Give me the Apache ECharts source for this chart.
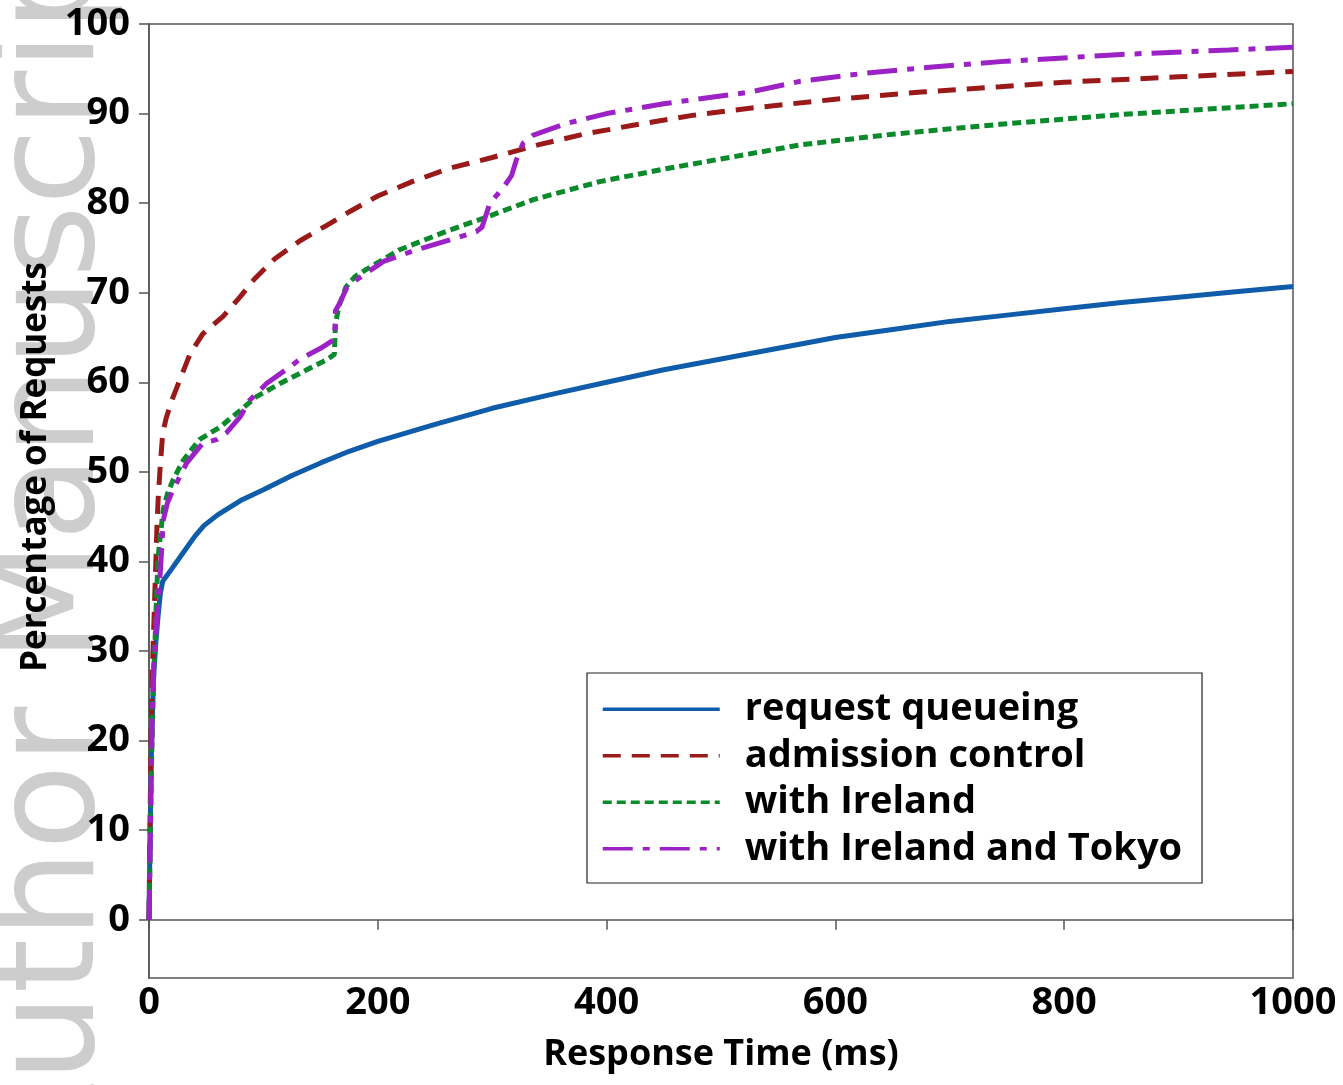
<!DOCTYPE html>
<html>
<head>
<meta charset="utf-8">
<title>Response time CDF</title>
<script src="https://cdn.jsdelivr.net/npm/echarts@6/dist/echarts.min.js"></script>
<style>
  html, body { margin: 0; padding: 0; background: #fff; }
  #chart { width: 1343px; height: 1085px; }
</style>
</head>
<body>
<div id="chart"></div>
<script>
// tick labels
const xTicks = [0, 200, 400, 600, 800, 1000]
const yTicks = [0, 10, 20, 30, 40, 50, 60, 70, 80, 90, 100]

const seriesNames = ['request queueing', 'admission control', 'with Ireland', 'with Ireland and Tokyo']

// [response time ms, percentage of requests]
const requestQueueing = [
  [0, 0], [1, 10], [2, 18], [3, 23], [4, 27], [6, 31], [8, 34], [10, 36.5], [12, 37.8],
  [20, 39.2], [30, 41.0], [40, 42.8], [48, 44.0], [60, 45.2], [80, 46.8], [100, 48.0],
  [125, 49.6], [150, 51.0], [175, 52.3], [200, 53.4], [250, 55.3], [300, 57.1], [350, 58.6],
  [400, 60.0], [450, 61.4], [500, 62.6], [550, 63.8], [600, 65.0], [650, 65.9], [700, 66.8],
  [750, 67.5], [800, 68.2], [850, 68.9], [900, 69.5], [950, 70.1], [1000, 70.7]
]
const admissionControl = [
  [0, 0], [1, 12], [2, 22], [3, 28], [4, 32], [5, 36], [6, 40], [7, 44], [8, 47], [10, 51],
  [12, 54.3], [15, 56], [20, 58], [27, 60.3], [36, 63.2], [47, 65.4], [65, 67.4], [80, 69.6],
  [92, 71.5], [110, 73.8], [132, 75.8], [155, 77.5], [176, 79.1], [200, 80.8], [230, 82.4],
  [263, 83.9], [300, 85.1], [340, 86.5], [380, 87.7], [423, 88.7], [475, 89.8], [525, 90.6],
  [600, 91.6], [675, 92.4], [744, 93.0], [800, 93.5], [900, 94.1], [1000, 94.7]
]
const withIreland = [
  [0, 0], [1, 8], [2, 16], [3, 22], [4, 27], [5, 30], [6, 34], [7, 37.5], [8, 40.5], [10, 43],
  [12.5, 45.8], [16, 47.5], [21, 49.1], [30, 51.3], [44, 53.6], [62, 55.0], [80, 56.9],
  [94, 58.4], [115, 59.9], [138, 61.4], [155, 62.5], [162, 63.1], [163, 66.5], [166, 68.5],
  [172, 70.6], [180, 71.8], [190, 72.6], [219, 74.8], [263, 77.0], [292, 78.3], [336, 80.4],
  [394, 82.4], [450, 83.8], [525, 85.5], [569, 86.5], [650, 87.7], [744, 88.8], [850, 89.9],
  [1000, 91.1]
]
const withIrelandTokyo = [
  [0, 0], [1, 8], [2, 17], [3, 24], [4, 28], [5, 30], [6, 32], [7, 34], [8, 36], [10, 39],
  [12.5, 44.6], [16, 46.5], [21, 48.0], [33, 51.0], [47, 53.2], [59, 53.6], [68, 54.4],
  [80, 56.2], [88, 58.0], [103, 59.9], [123, 61.7], [132, 62.6], [150, 63.8], [161, 64.7],
  [162.5, 66], [163, 68.0], [167, 68.9], [173, 70.6], [182, 71.5], [205, 73.5], [234, 74.8],
  [263, 75.9], [286, 76.8], [291, 77.3], [298, 80.0], [310, 81.8], [317, 83.1], [321, 84.8],
  [327, 86.7], [336, 87.6], [365, 88.9], [400, 90.0], [450, 91.1], [525, 92.4], [569, 93.6],
  [625, 94.5], [685, 95.2], [744, 95.8], [850, 96.6], [944, 97.1], [1000, 97.4]
]

const FONT = '"Open Sans", "Noto Sans", sans-serif'
const chart = echarts.init(document.getElementById('chart'))

// 每条线的样式
const styles = [
  { color: '#0f5cab', type: 'solid' },
  { color: '#9a1a1a', type: [18, 11] },
  { color: '#0b8a2c', type: [9, 5] },
  { color: '#9c22c6', type: [30, 10, 7, 10] }
]
const dataSets = [requestQueueing, admissionControl, withIreland, withIrelandTokyo]

const labelStyle = { fontFamily: FONT, fontSize: 38, fontWeight: 'bold', color: '#000' }

chart.setOption({
  backgroundColor: '#fff',
  animation: false,
  graphic: [
    {
      // watermark on the left edge
      type: 'text',
      z: -10,
      x: 127,
      y: 1178,
      rotation: Math.PI / 2,
      style: {
        text: 'Author Manuscript',
        font: '140px "DejaVu Sans", sans-serif',
        fill: '#cdcdcd',
        textAlign: 'left',
        textVerticalAlign: 'bottom'
      }
    }
  ],
  grid: {
    left: 149,
    right: 50,
    top: 24,
    bottom: 107,
    show: true,
    borderColor: '#555',
    borderWidth: 1.5,
    containLabel: false
  },
  xAxis: {
    type: 'value',
    min: 0,
    max: 1000,
    interval: 200,
    name: 'Response Time (ms)',
    nameLocation: 'middle',
    nameGap: 59,
    nameTextStyle: Object.assign({}, labelStyle, { fontSize: 36 }),
    axisLine: { show: true, lineStyle: { color: '#555', width: 1.5 } },
    axisTick: { show: true, inside: false, length: 10, lineStyle: { color: '#555', width: 1.5 } },
    axisLabel: Object.assign({ margin: 6, customValues: xTicks, formatter: v => String(v) }, labelStyle),
    splitLine: { show: false }
  },
  yAxis: {
    type: 'value',
    min: -6.5,
    max: 100,
    name: 'Percentage of Requests',
    nameLocation: 'middle',
    nameGap: 95,
    nameTextStyle: Object.assign({}, labelStyle, { fontSize: 35, padding: [0, 0, 0, 68] }),
    axisLine: { show: true, onZero: false, lineStyle: { color: '#555', width: 1.5 } },
    axisTick: { show: true, inside: false, length: 10, lineStyle: { color: '#555', width: 1.5 }, customValues: yTicks },
    axisLabel: Object.assign({ margin: 19, customValues: yTicks, formatter: v => String(v) }, labelStyle),
    splitLine: { show: false }
  },
  legend: {
    orient: 'vertical',
    left: 587,
    top: 673,
    padding: [16, 20, 14, 14],
    backgroundColor: '#fff',
    borderColor: '#222',
    borderWidth: 1.2,
    itemWidth: 117,
    itemHeight: 14,
    itemGap: 6,
    itemStyle: { opacity: 0 },
    lineStyle: { width: 3.5 },
    textStyle: Object.assign({}, labelStyle, { fontSize: 38, lineHeight: 40.5, padding: [0, 0, 0, 20] }),
    data: seriesNames
  },
  series: seriesNames.map((name, i) => ({
    name: name,
    type: 'line',
    data: dataSets[i],
    showSymbol: false,
    symbol: 'none',
    smooth: false,
    color: styles[i].color,
    lineStyle: { color: styles[i].color, width: 5, type: styles[i].type },
    emphasis: { disabled: true }
  }))
})
</script>
</body>
</html>
